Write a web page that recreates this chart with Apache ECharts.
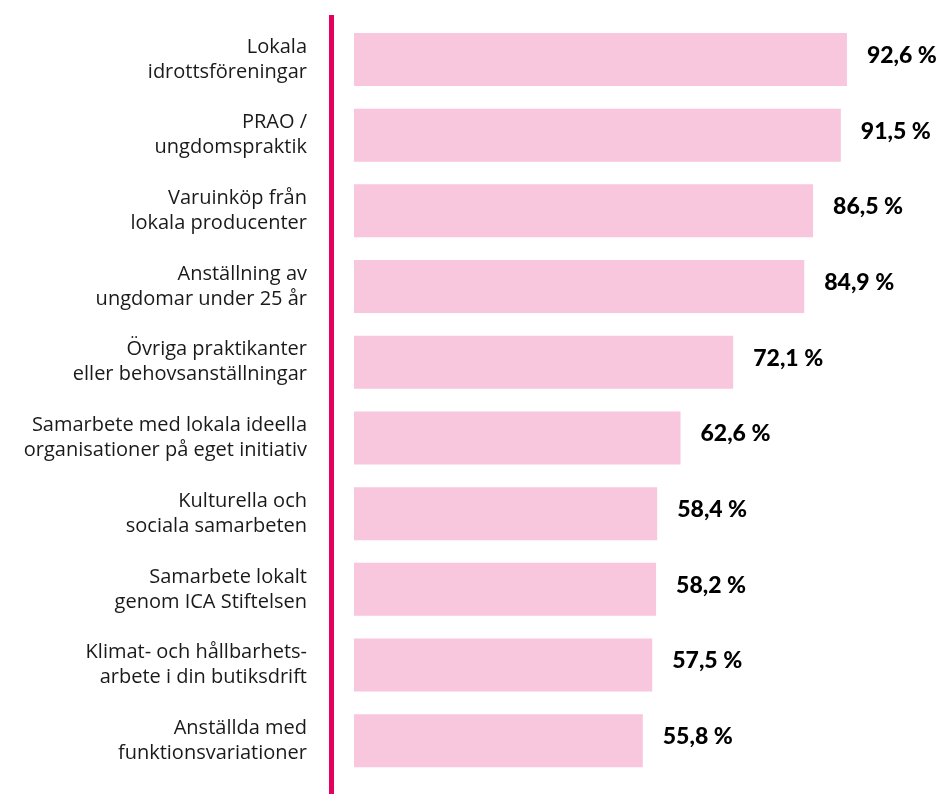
<!DOCTYPE html>
<html><head><meta charset="utf-8">
<script src="https://cdn.jsdelivr.net/npm/echarts@6/dist/echarts.min.js"></script>
<style>html,body{margin:0;padding:0;background:#fff}#c{width:948px;height:794px}</style>
</head><body><div id="c"></div>
<script>
const categories = [
  "Lokala\nidrottsföreningar",
  "PRAO /\nungdomspraktik",
  "Varuinköp från\nlokala producenter",
  "Anställning av\nungdomar under 25 år",
  "Övriga praktikanter\neller behovsanställningar",
  "Samarbete med lokala ideella\norganisationer på eget initiativ",
  "Kulturella och\nsociala samarbeten",
  "Samarbete lokalt\ngenom ICA Stiftelsen",
  "Klimat- och hållbarhets-\narbete i din butiksdrift",
  "Anställda med\nfunktionsvariationer"
];
const values = [92.6, 91.5, 86.5, 84.9, 72.1, 62.6, 58.4, 58.2, 57.5, 55.8];

const chart = echarts.init(document.getElementById('c'), null, {renderer: 'canvas'});
chart.setOption({
  animation: false,
  grid: {left: 354, top: 21.6, width: 534, height: 757, containLabel: false},
  xAxis: {type: 'value', min: 3.75, max: 100, show: false},
  yAxis: {
    type: 'category', data: categories, inverse: true,
    axisLine: {show: false}, axisTick: {show: false},
    axisLabel: {
      margin: 47, align: 'right', color: '#1a1a1a',
      fontFamily: 'Open Sans', fontSize: 20, lineHeight: 25,
      padding: [0, 0, 6, 0]
    }
  },
  graphic: [{
    type: 'rect', shape: {x: 329, y: 15, width: 5, height: 779},
    style: {fill: '#E3005F'}
  }],
  series: [{
    type: 'bar', data: values, barWidth: 53,
    itemStyle: {color: '#F8C6DD'},
    label: {
      show: true, position: 'right', distance: 20, offset: [0, -4],
      color: '#000', fontFamily: 'Lato', fontWeight: 900, fontSize: 23,
      formatter: p => p.value.toFixed(1).replace('.', ',') + ' %'
    }
  }]
});
</script></body></html>
